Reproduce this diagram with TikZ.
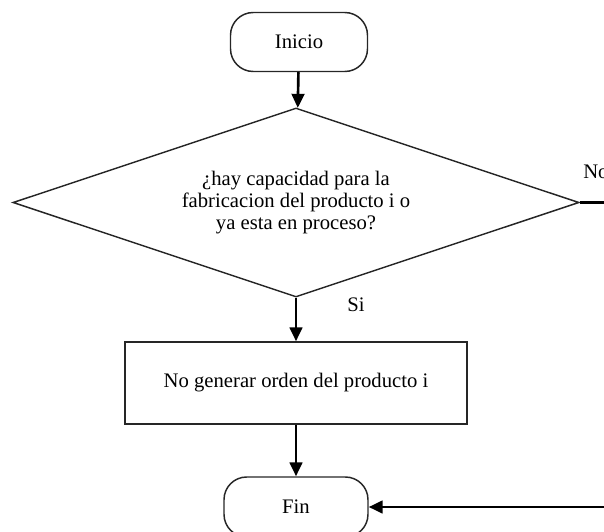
\documentclass[tikz,border=0pt]{standalone}
\usepackage{fontspec}
\setmainfont{Liberation Serif}
\usetikzlibrary{shapes.geometric,arrows.meta}
\begin{document}
\begin{tikzpicture}[x=0.75pt,y=-0.75pt,
  font=\fontsize{15.5}{16.2}\selectfont,
  shapeline/.style={draw=black!85,line width=1.1pt},
  terminal/.style={shapeline,rounded corners=17pt,inner sep=0pt},
  decision/.style={shapeline,diamond,aspect=3,inner sep=0pt,align=center},
  process/.style={shapeline,rectangle,inner sep=0pt},
  flow/.style={line width=2pt,-{Triangle[length=10.5pt,width=9.5pt]}},
  label/.style={inner sep=0pt,anchor=base west}]
  \clip (0,0) rectangle (604,532);
  \useasboundingbox (0,0) rectangle (604,532);

  % terminals, decision and process
  \node[terminal,minimum width=102.75pt,minimum height=44.25pt] (inicio) at (299,42) {Inicio};
  \node[decision,minimum width=424.5pt,minimum height=141.75pt] (pregunta) at (296,202.5)
    {¿hay capacidad para la\\fabricacion del producto i o\\ya esta en proceso?};
  \node[process,minimum width=256.5pt,minimum height=61.5pt] (orden) at (296,383)
    {No generar orden del producto i};
  \node[terminal,minimum width=108pt,minimum height=45pt] (fin) at (296,507) {Fin};

  % return path on the right-hand side
  \coordinate (derA) at (640,202.5);
  \coordinate (derB) at (640,507);

  % connectors
  \draw[flow] (inicio) -- (pregunta);
  \draw[flow] (pregunta) -- (orden);
  \draw[flow] (orden) -- (fin);
  \draw[line width=2pt] (pregunta.east) -- (derA) -- (derB);
  \draw[flow] (derB) -- (fin.east);

  % branch labels
  \node[label] (no) at (583,178) {No};
  \node[label] (si) at (347,311) {Si};
\end{tikzpicture}
\end{document}
